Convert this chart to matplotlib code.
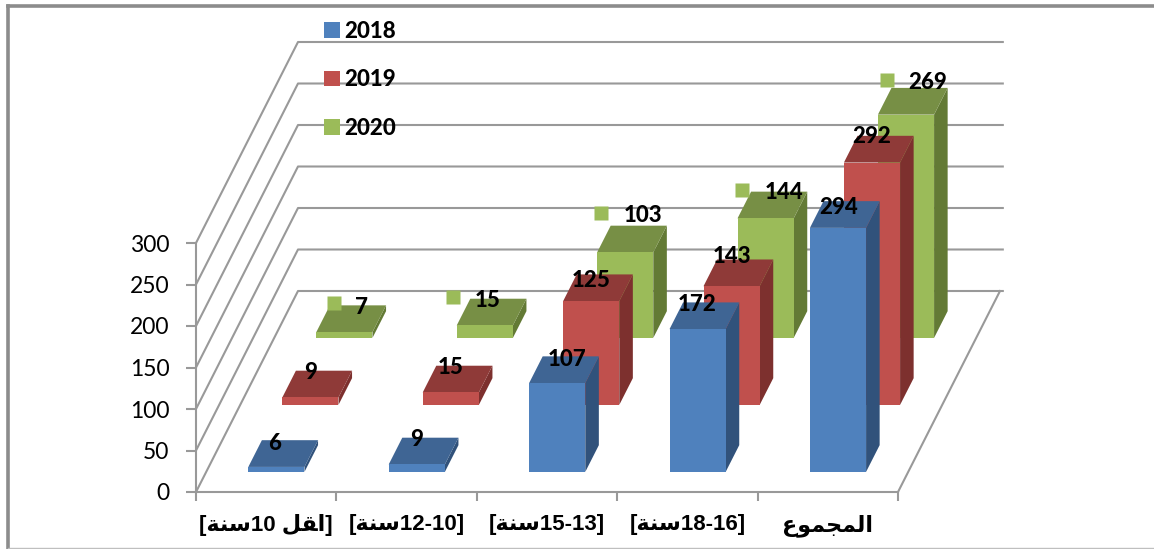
# encoding=utf-8
import matplotlib
matplotlib.use('Agg')
import matplotlib.pyplot as plt
from matplotlib.lines import Line2D
from matplotlib.patches import Patch, Polygon

plt.rcParams['font.family'] = ['Lato', 'DejaVu Sans']

# matplotlib does no arabic shaping, so these are presentation forms in visual order
categories = ['[\ufe94\ufee8\ufeb310 \ufede\ufed8\ufe8d]',
              '[\ufe94\ufee8\ufeb312-10]',
              '[\ufe94\ufee8\ufeb315-13]',
              '[\ufe94\ufee8\ufeb318-16]',
              '\ufec9\ufeee\ufee4\ufea0\ufee4\ufedf\ufe8d']
years = ['2018', '2019', '2020']
values_2018 = [6, 9, 107, 172, 294]
values_2019 = [9, 15, 125, 143, 292]
values_2020 = [7, 15, 103, 144, 269]
yticks = [0, 50, 100, 150, 200, 250, 300]

front_colors = ['#4F81BD', '#C0504D', '#9BBB59']
top_colors = ['#3F6594', '#8F3A38', '#778F45']
side_colors = ['#31527B', '#7D302E', '#637A35']
grid_color = '#999999'

W, H = 1154, 549
fig = plt.figure(figsize=(W / 100, H / 100), dpi=100)
ax = fig.add_axes([196 / W, (H - 492) / H, 702 / W, 249 / H])
ax.set_xlim(0, 5)
ax.set_ylim(0, 300)
ax.patch.set_alpha(0)

# how far the floor goes back, in axis units
DEPTH_X = 102 / 702 * 5
DEPTH_Y = 201 / 249 * 300
PX_X = 5 / 702
PX_Y = 300 / 249


def project(x, d, v):
    return x + d * DEPTH_X, v + d * DEPTH_Y


# walls and floor
for v in yticks:
    x0, y0 = project(0, 0, v)
    x1, y1 = project(0, 1, v)
    x2, y2 = project(5.02, 1, v)
    ax.plot([x0, x1, x2], [y0, y1, y2], color=grid_color, lw=1.5, clip_on=False, zorder=1)
ax.plot(*zip(project(5, 0, 0), project(5, 1, 0)), color=grid_color, lw=1.5, clip_on=False, zorder=1)

# bars, back row first
bar_width = 0.4
bar_depth = 0.133
series = [values_2018, values_2019, values_2020]
for s in [2, 1, 0]:
    d0 = 0.1 + s / 3
    d1 = d0 + bar_depth
    for i, v in enumerate(series[s]):
        xa = i + 0.3
        xb = xa + bar_width
        z = 3 + (2 - s) + i * 0.1
        front = [project(xa, d0, 0), project(xb, d0, 0), project(xb, d0, v), project(xa, d0, v)]
        top = [project(xa, d0, v), project(xb, d0, v), project(xb, d1, v), project(xa, d1, v)]
        side = [project(xb, d0, 0), project(xb, d1, 0), project(xb, d1, v), project(xb, d0, v)]
        ax.add_patch(Polygon(side, fc=side_colors[s], ec='none', clip_on=False, zorder=z))
        ax.add_patch(Polygon(top, fc=top_colors[s], ec='none', clip_on=False, zorder=z))
        ax.add_patch(Polygon(front, fc=front_colors[s], ec='none', clip_on=False, zorder=z))

# data labels sit on the back edge of each bar, some were moved by hand in the original
nudge_x = [[-2, 0, 10, 0, 1], [0, 0, 0, 0, 0], [17, 3, 18, 18, 22]]
nudge_y = [[-3, -2, -3, -2, -6], [-2, -2, -6, 3, -1], [-2, -2, 10, -1, 5]]
for s in range(3):
    d0 = 0.1 + s / 3
    d1 = d0 + bar_depth
    for i, v in enumerate(series[s]):
        x = project(i + 0.5, d0, v)[0]
        y = project(i + 0.5, d1, v)[1]
        ax.annotate(str(v), (x, y), xytext=(nudge_x[s][i], nudge_y[s][i]),
                    textcoords='offset pixels', ha='center', va='center',
                    fontsize=16, fontweight='black', family='Lato', color='black',
                    annotation_clip=False, zorder=20)

# stray legend keys next to the 2020 labels
key_x = [-10, -32, -24, -24, -19]
key_y = [2, 1.5, 13, 2, 8]
d0 = 0.1 + 2 / 3
d1 = d0 + bar_depth
for i, v in enumerate(values_2020):
    x = project(i + 0.5, d0, v)[0]
    y = project(i + 0.5, d1, v)[1]
    ax.plot(x + key_x[i] * PX_X, y + key_y[i] * PX_Y, 's', ms=10.5, mfc=front_colors[2],
            mec='none', clip_on=False, zorder=19)

# axis
for name in ['top', 'right']:
    ax.spines[name].set_visible(False)
for name in ['left', 'bottom']:
    ax.spines[name].set_color(grid_color)
    ax.spines[name].set_linewidth(1.5)
ax.set_yticks(yticks)
ax.tick_params(axis='y', length=7, width=1.5, color=grid_color, labelsize=16.5, pad=12)
ax.set_xticks(range(6))
ax.set_xticklabels([])
ax.tick_params(axis='x', which='major', length=6.5, width=1.5, color=grid_color)
ax.set_xticks([i + 0.5 for i in range(5)], minor=True)
ax.set_xticklabels(categories, minor=True, fontsize=16, fontweight='bold',
                   family=['Liberation Sans', 'DejaVu Sans'])
ax.tick_params(axis='x', which='minor', length=0, pad=16)

handles = [Patch(fc=c, ec='none', label=y) for c, y in zip(front_colors, years)]
leg = ax.legend(handles=handles, loc='upper left', bbox_to_anchor=(324 / W, 1 - 21 / H),
                bbox_transform=fig.transFigure, frameon=False, ncol=1, handlelength=0.72,
                handleheight=0.7, handletextpad=0.2, labelspacing=1.23, borderpad=0,
                borderaxespad=0, prop={'family': 'Lato', 'size': 16, 'weight': 'black'})
leg.set_zorder(25)

# frame round the picture
fig.add_artist(Line2D([8 / W, 8 / W], [1 / H, 1 - 6 / H], color='#8C8C8C', lw=2.6))
fig.add_artist(Line2D([8 / W, 1], [1 - 6 / H, 1 - 6 / H], color='#8C8C8C', lw=2.6))
fig.add_artist(Line2D([8 / W, 1], [1 / H, 1 / H], color='#BFBFBF', lw=1.0))

fig.savefig('out.png', dpi=100)
